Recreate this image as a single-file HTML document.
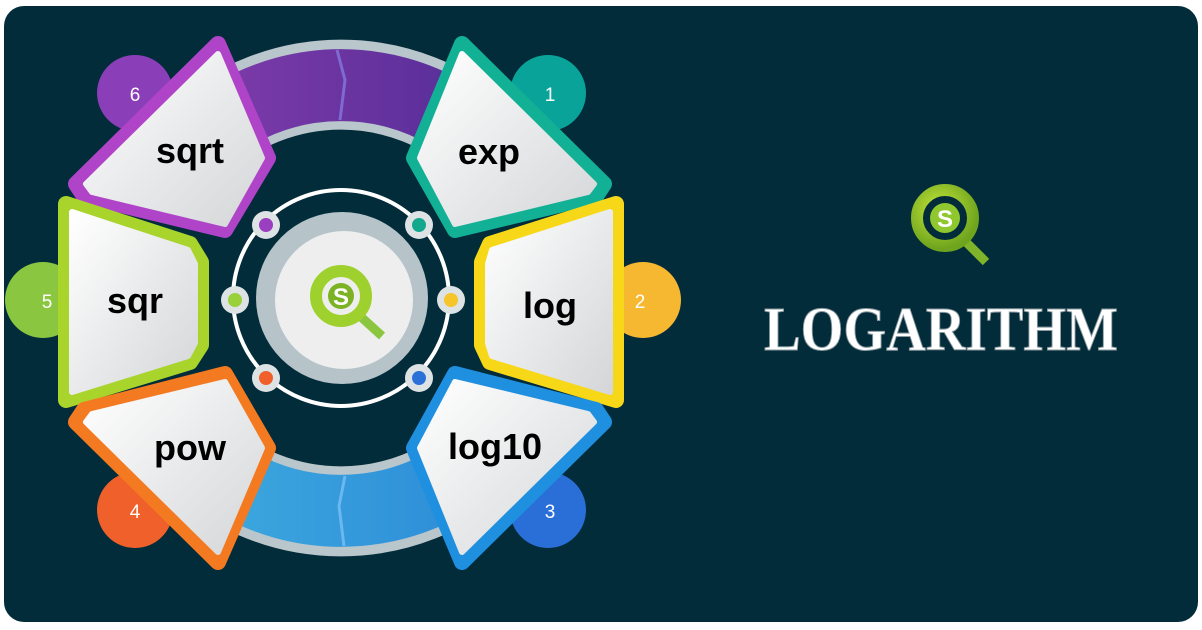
<!DOCTYPE html>
<html><head><meta charset="utf-8"><style>
html,body{margin:0;padding:0;background:#fff;width:1202px;height:630px;overflow:hidden}
</style></head><body>
<svg width="1202" height="630" viewBox="0 0 1202 630" xmlns="http://www.w3.org/2000/svg">
<defs>
<linearGradient id="tile" x1="0" y1="0" x2="1" y2="1">
<stop offset="0" stop-color="#ffffff"/><stop offset="1" stop-color="#d4d6d8"/></linearGradient>
<radialGradient id="gq" cx="0.4" cy="0.35" r="0.7"><stop offset="0" stop-color="#c6e83a"/><stop offset="1" stop-color="#6fa41e"/></radialGradient>
<linearGradient id="purp" x1="0" x2="1"><stop offset="0" stop-color="#7a3aa8"/><stop offset="1" stop-color="#5b2f9a"/></linearGradient>
<linearGradient id="blu" x1="0" x2="1"><stop offset="0" stop-color="#3ba6de"/><stop offset="1" stop-color="#2f8fd8"/></linearGradient>
</defs>
<rect x="4" y="6" width="1194" height="616" rx="20" fill="#032c3a"/>

<!-- outer band arcs -->
<path d="M 200 138 A 213 213 0 0 1 482 138" fill="none" stroke="#b9c6cc" stroke-width="90"/>
<path d="M 200 458 A 213 213 0 0 0 482 458" fill="none" stroke="#b9c6cc" stroke-width="90"/>
<path d="M 234 114 A 213 213 0 0 1 448 114" fill="none" stroke="url(#purp)" stroke-width="72"/>
<path d="M 234 482 A 213 213 0 0 0 448 482" fill="none" stroke="url(#blu)" stroke-width="72"/>
<path d="M337 50 l8 30 l-5 40" stroke="#7e6ad0" stroke-width="3" fill="none"/>
<path d="M345 476 l-6 30 l5 40" stroke="#6bb8f0" stroke-width="3" fill="none"/>

<!-- badges -->
<circle cx="548" cy="93" r="38" fill="#0aa39a"/>
<circle cx="135" cy="93" r="38" fill="#8a3fb8"/>
<circle cx="643" cy="300" r="38" fill="#f6b830"/>
<circle cx="43" cy="300" r="38" fill="#8ac640"/>
<circle cx="548" cy="510" r="38" fill="#2a6ed8"/>
<circle cx="135" cy="510" r="38" fill="#f0602a"/>
<g font-family="Liberation Sans, sans-serif" font-size="19" fill="#fff" text-anchor="middle">
<text x="550" y="101">1</text><text x="135" y="101">6</text>
<text x="640" y="308">2</text><text x="47" y="308">5</text>
<text x="550" y="518">3</text><text x="135" y="518">4</text>
</g>

<!-- tiles -->
<g stroke-width="16" stroke-linejoin="round">
<polygon points="462,44 604,184 596,196 455,230 414,158" fill="#12b196" stroke="#12b196"/>
<polygon points="218,44 76,184 84,196 225,230 268,158" fill="#b044c8" stroke="#b044c8"/>
<polygon points="490,244 616,204 616,400 490,362 482,345 482,262" fill="#f7d818" stroke="#f7d818"/>
<polygon points="190,244 66,204 66,400 190,362 201,345 201,262" fill="#a8d42c" stroke="#a8d42c"/>
<polygon points="462,562 604,422 596,410 455,374 414,448" fill="#1f8fe0" stroke="#1f8fe0"/>
<polygon points="218,562 76,422 84,410 225,374 268,448" fill="#f47a22" stroke="#f47a22"/>
</g>
<g stroke-width="6" stroke-linejoin="round" fill="url(#tile)" stroke="url(#tile)">
<polygon points="462,54 594,184 588,192 455,224 420,158"/>
<polygon points="218,54 86,184 92,192 225,224 262,158"/>
<polygon points="492,250 610,212 610,392 492,356 488,343 488,264"/>
<polygon points="188,250 72,212 72,392 188,356 195,343 195,264"/>
<polygon points="462,552 594,422 588,414 455,382 420,448"/>
<polygon points="218,552 86,422 92,414 225,382 262,448"/>
</g>
<g font-family="Liberation Sans, sans-serif" font-weight="bold" font-size="36" fill="#000" text-anchor="middle">
<text x="489" y="164">exp</text>
<text x="190" y="163">sqrt</text>
<text x="550" y="318">log</text>
<text x="135" y="313">sqr</text>
<text x="495" y="459">log10</text>
<text x="190" y="460">pow</text>
</g>

<!-- center -->
<circle cx="341" cy="298" r="108" fill="none" stroke="#fff" stroke-width="4"/>
<circle cx="342" cy="298" r="86" fill="#b6c4ca"/>
<circle cx="344" cy="300" r="69" fill="#eeeeee"/>
<g>
<circle cx="266" cy="225" r="14" fill="#dde2e4"/><circle cx="266" cy="225" r="7" fill="#9a3fc0"/>
<circle cx="419" cy="225" r="14" fill="#dde2e4"/><circle cx="419" cy="225" r="7" fill="#12a88e"/>
<circle cx="235" cy="300" r="14" fill="#dde2e4"/><circle cx="235" cy="300" r="7" fill="#9ad03a"/>
<circle cx="451" cy="300" r="14" fill="#dde2e4"/><circle cx="451" cy="300" r="7" fill="#f6c52a"/>
<circle cx="266" cy="378" r="14" fill="#dde2e4"/><circle cx="266" cy="378" r="7" fill="#f0602a"/>
<circle cx="419" cy="378" r="14" fill="#dde2e4"/><circle cx="419" cy="378" r="7" fill="#2a70d8"/>
</g>
<!-- center logo -->
<line x1="360" y1="316" x2="382" y2="336" stroke="#8cc63e" stroke-width="9"/>
<circle cx="341" cy="296" r="25" fill="none" stroke="#9fd12e" stroke-width="12"/>
<circle cx="341" cy="296" r="13" fill="#7bb325"/>
<text x="341" y="305" font-family="Liberation Sans, sans-serif" font-weight="bold" font-size="24" fill="#fff" text-anchor="middle">S</text>

<!-- right logo -->
<line x1="962" y1="238" x2="986" y2="262" stroke="#7fb42a" stroke-width="9"/>
<circle cx="945" cy="218" r="28" fill="none" stroke="url(#gq)" stroke-width="12"/>
<circle cx="945" cy="218" r="15" fill="#8fc72e"/>
<text x="945" y="227" font-family="Liberation Sans, sans-serif" font-weight="bold" font-size="24" fill="#fff" text-anchor="middle">S</text>
<text x="941" y="350" font-family="Liberation Serif, serif" font-weight="bold" font-size="62" fill="#fff" stroke="#8a9aa0" stroke-width="1" text-anchor="middle" textLength="354" lengthAdjust="spacingAndGlyphs">LOGARITHM</text>
</svg>
</body></html>
